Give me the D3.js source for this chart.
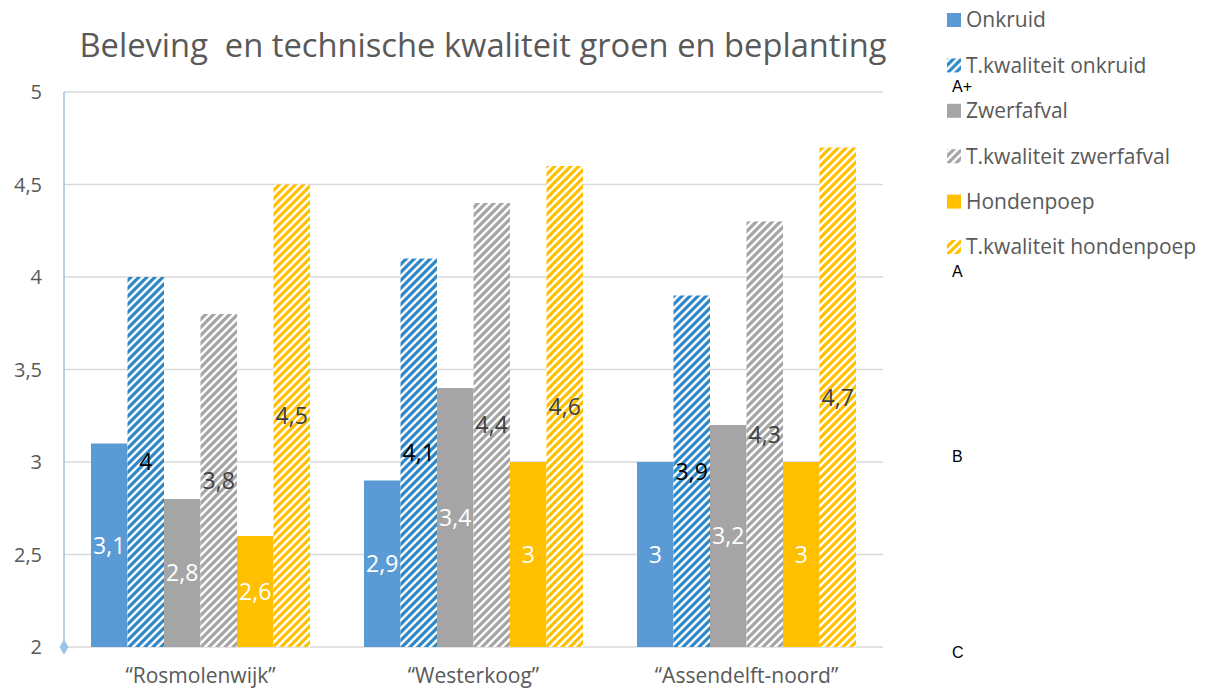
<!DOCTYPE html>
<html>
<head>
<meta charset="utf-8">
<script src="https://cdn.jsdelivr.net/npm/d3@7"></script>
<style>
  body { margin: 0; background: #fff; }
  svg { display: block; font-family: "Open Sans", sans-serif; }
</style>
</head>
<body>
<svg id="chart" width="1215" height="688"></svg>
<script>
var categories = ['\u201cRosmolenwijk\u201d', '\u201cWesterkoog\u201d', '\u201cAssendelft-noord\u201d']
var seriesNames = ['Onkruid', 'T.kwaliteit onkruid', 'Zwerfafval', 'T.kwaliteit zwerfafval', 'Hondenpoep', 'T.kwaliteit hondenpoep']
var onkruid = [3.1, 2.9, 3.0]
var tOnkruid = [4.0, 4.1, 3.9]
var zwerfafval = [2.8, 3.4, 3.2]
var tZwerfafval = [3.8, 4.4, 4.3]
var hondenpoep = [2.6, 3.0, 3.0]
var tHondenpoep = [4.5, 4.6, 4.7]
var yTicks = [2, 2.5, 3, 3.5, 4, 4.5, 5]
var gradeLabels = ['A+', 'A', 'B', 'C']
var gradeValues = [5, 4, 3, 1.94]

var seriesValues = [onkruid, tOnkruid, zwerfafval, tZwerfafval, hondenpoep, tHondenpoep]
var colors = ['#5B9BD5', '#2E88C8', '#A5A5A5', '#A5A5A5', '#FFC000', '#FFC000']
var hatched = [false, true, false, true, false, true]
var labelColors = ['#fff', '#000', '#fff', '#404040', '#fff', '#404040']

var svg = d3.select('#chart')
  , pLeft = 64, pRight = 883, pTop = 92, pBottom = 647
  , fmt = function(v){ return d3.format('.2~f')(v).replace('.', ',') }

var y = d3.scaleLinear().domain([2, 5]).range([pBottom, pTop])
var x0 = d3.scaleBand().domain(categories).range([pLeft, pRight])
var x1 = d3.scaleBand().domain(seriesNames).range([0, x0.bandwidth()]).paddingOuter(0.74)

// hatch patterns (wide upward diagonal)
var defs = svg.append('defs')
seriesNames.forEach(function(s, i){
  if(!hatched[i]) return
  var p = defs.append('pattern')
    .attr('id', 'hatch' + i)
    .attr('patternUnits', 'userSpaceOnUse')
    .attr('width', 8).attr('height', 8)
  p.append('rect').attr('width', 8).attr('height', 8).attr('fill', '#fff')
  p.append('path')
    .attr('d', 'M0,8 L8,0 M-2,2 L2,-2 M6,10 L10,6')
    .attr('stroke', colors[i]).attr('stroke-width', 3.2)
})
function fillFor(i){ return hatched[i] ? 'url(#hatch' + i + ')' : colors[i] }

// title
svg.append('text')
  .attr('x', 483).attr('y', 57)
  .attr('text-anchor', 'middle')
  .attr('font-size', 32.7).attr('fill', '#595959')
  .attr('xml:space', 'preserve')
  .text('Beleving  en technische kwaliteit groen en beplanting')

// gridlines
svg.append('g').selectAll('line').data(yTicks).enter().append('line')
  .attr('x1', pLeft).attr('x2', pRight)
  .attr('y1', function(d){ return y(d) }).attr('y2', function(d){ return y(d) })
  .attr('stroke', '#D9D9D9').attr('stroke-width', 1.3)

// y tick labels
svg.append('g').selectAll('text').data(yTicks).enter().append('text')
  .attr('x', 42).attr('y', function(d){ return y(d) })
  .attr('dy', '0.35em')
  .attr('text-anchor', 'end')
  .attr('font-size', 20).attr('fill', '#595959')
  .text(fmt)

// bars
var groups = svg.append('g').selectAll('g.cat').data(categories).enter().append('g')
  .attr('class', 'cat')
  .attr('transform', function(d){ return 'translate(' + x0(d) + ',0)' })

var cells = groups.selectAll('g.bar').data(function(c, ci){
    return seriesNames.map(function(s, si){ return { s: s, si: si, v: seriesValues[si][ci] } })
  })
  .enter().append('g').attr('class', 'bar')

cells.append('rect')
  .attr('x', function(d){ return x1(d.s) })
  .attr('width', x1.bandwidth())
  .attr('y', function(d){ return y(d.v) })
  .attr('height', function(d){ return y(2) - y(d.v) })
  .attr('fill', function(d){ return fillFor(d.si) })

cells.append('text')
  .attr('x', function(d){ return x1(d.s) + x1.bandwidth() / 2 })
  .attr('y', function(d){ return (y(d.v) + y(2)) / 2 })
  .attr('dy', '0.36em')
  .attr('text-anchor', 'middle')
  .attr('font-size', 23)
  .attr('fill', function(d){ return labelColors[d.si] })
  .text(function(d){ return fmt(d.v) })

// y axis line + marker
svg.append('line')
  .attr('x1', pLeft).attr('x2', pLeft).attr('y1', pTop).attr('y2', pBottom)
  .attr('stroke', '#9DC3E6').attr('stroke-width', 1.5)
svg.append('path')
  .attr('d', d3.symbol(d3.symbolDiamond, 70)())
  .attr('transform', 'translate(' + pLeft + ',' + pBottom + ')')
  .attr('fill', '#9DC3E6')

// x labels
svg.append('g').selectAll('text').data(categories).enter().append('text')
  .attr('x', function(d){ return x0(d) + x0.bandwidth() / 2 })
  .attr('y', 683)
  .attr('text-anchor', 'middle')
  .attr('font-size', 21).attr('fill', '#595959')
  .text(function(d){ return d })

// legend
var ly = d3.scalePoint().domain(seriesNames).range([20, 247])
var leg = svg.append('g').selectAll('g').data(seriesNames).enter().append('g')
  .attr('transform', function(d){ return 'translate(947,' + ly(d) + ')' })
leg.append('rect')
  .attr('x', 0).attr('y', -7).attr('width', 14).attr('height', 14)
  .attr('fill', function(d, i){ return fillFor(i) })
leg.append('text')
  .attr('x', 19).attr('dy', '0.35em')
  .attr('font-size', 21).attr('fill', '#595959')
  .text(function(d){ return d })

// grade annotations
svg.append('g').selectAll('text').data(gradeLabels).enter().append('text')
  .attr('x', 952).attr('y', function(d, i){ return y(gradeValues[i]) })
  .attr('font-size', 16).attr('fill', '#000')
  .attr('font-family', 'Liberation Sans, sans-serif')
  .text(function(d){ return d })
</script>
</body>
</html>
